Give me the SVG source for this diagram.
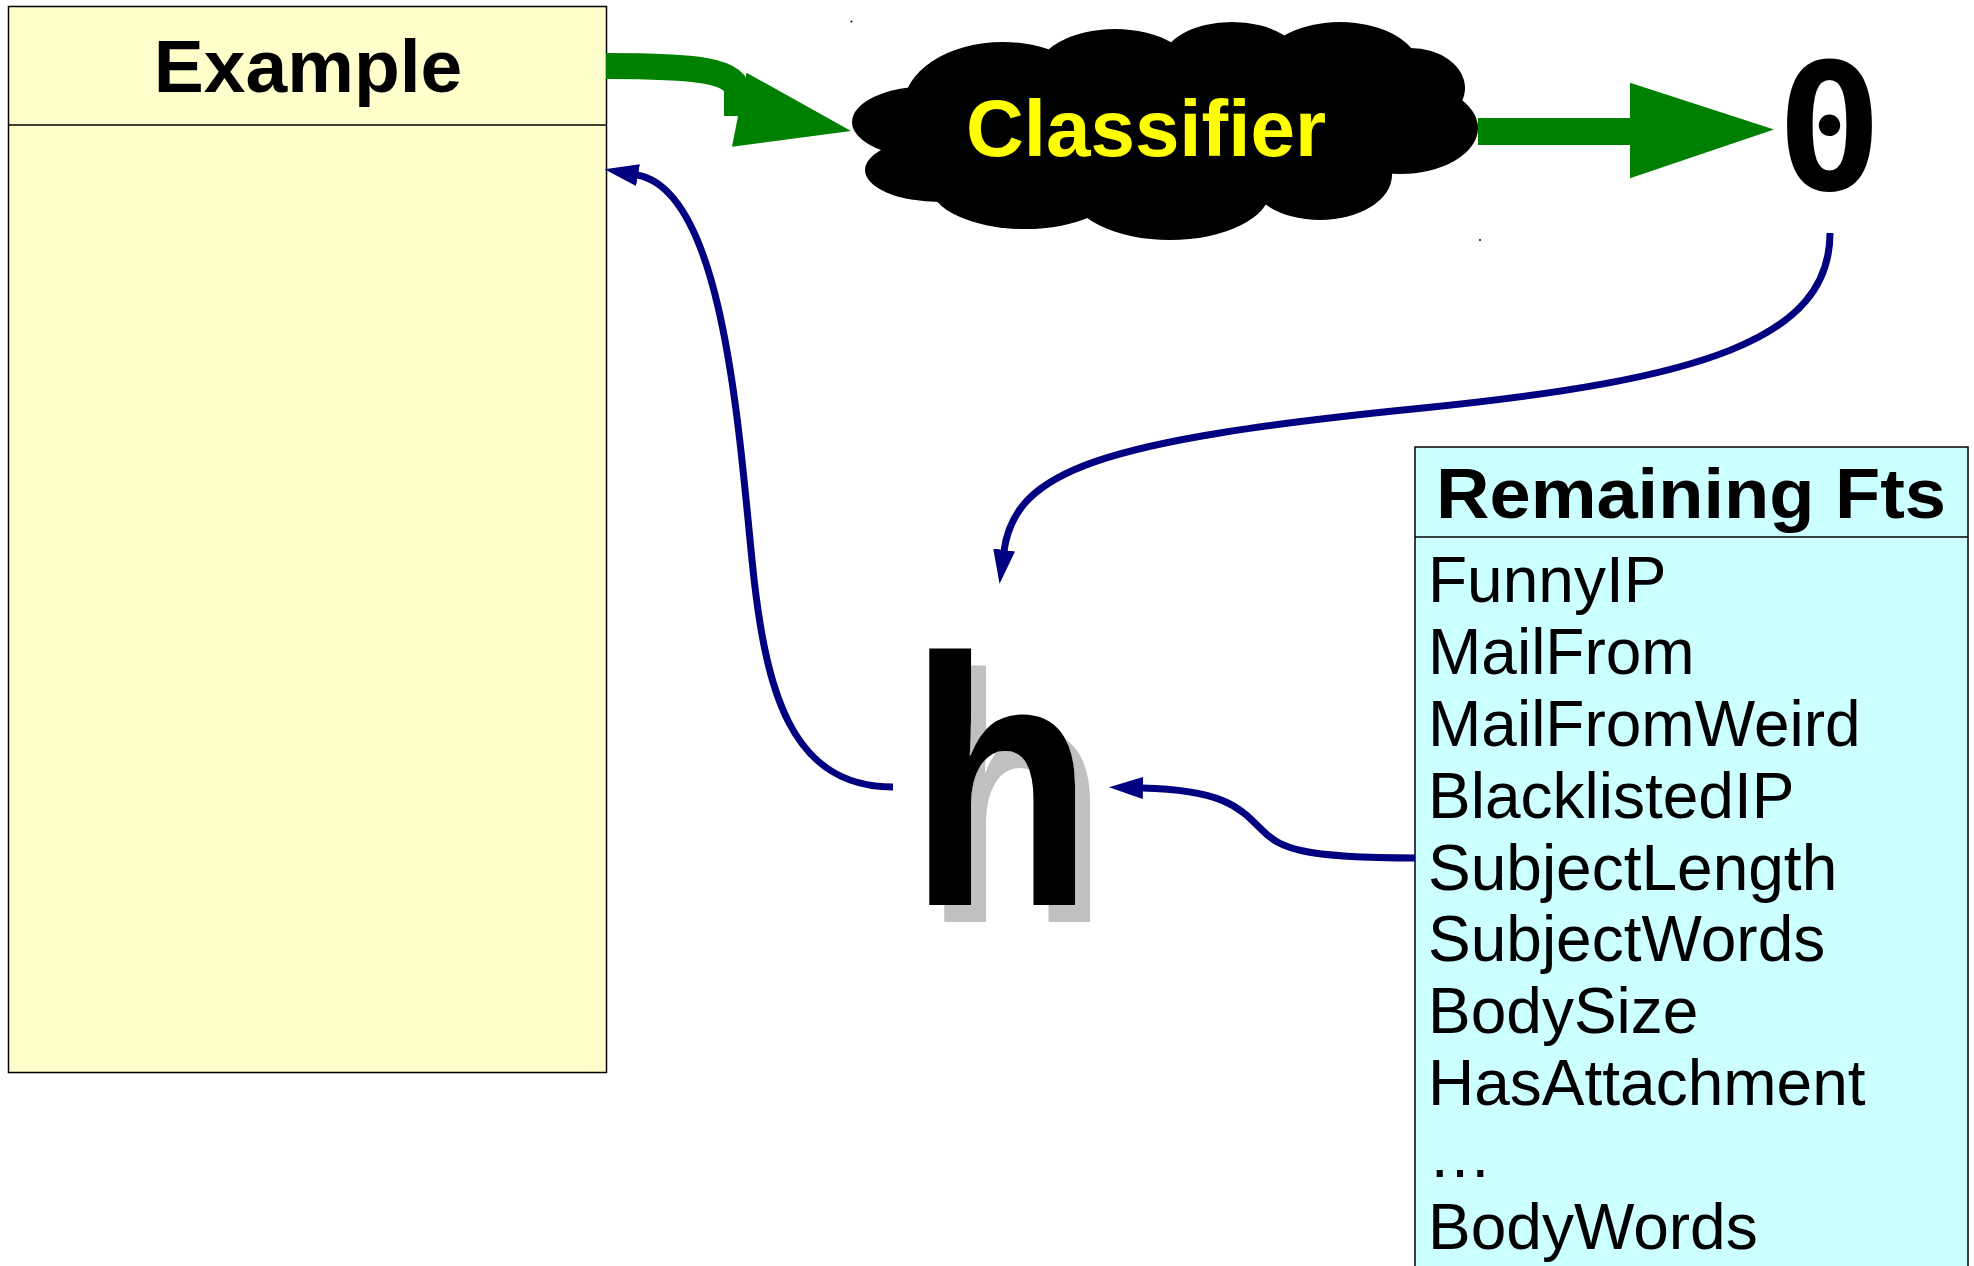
<svg xmlns="http://www.w3.org/2000/svg" width="1974" height="1266" viewBox="0 0 1974 1266">
<defs>
<style>
.sans{font-family:"Liberation Sans",Arial,Helvetica,sans-serif;}
.bold{font-weight:bold;}
.item{font-family:"Liberation Sans",Arial,Helvetica,sans-serif;font-size:64px;fill:#000;}
.blue{fill:none;stroke:#000080;stroke-width:7;marker-end:url(#ah);}
.shaft{fill:none;stroke:#008000;}
.head{fill:#008000;}
.box{stroke:#000;stroke-width:1.5;}
</style>
<marker id="ah" markerUnits="userSpaceOnUse" viewBox="0 0 34 22" refX="1" refY="11" markerWidth="34" markerHeight="22" orient="auto">
<path d="M0,0 L34,11 L0,22 z" fill="#000080"/>
</marker>
<filter id="shadow" x="-20%" y="-20%" width="150%" height="150%">
<feFlood flood-color="#c0c0c0"/>
<feComposite in2="SourceAlpha" operator="in"/>
<feOffset dx="17" dy="17"/>
<feMerge><feMergeNode/><feMergeNode in="SourceGraphic"/></feMerge>
</filter>
</defs>
<rect width="1974" height="1266" fill="#ffffff"/>

<g id="example">
<rect class="box" x="8.5" y="6.5" width="598" height="1066" fill="#ffffcc"/>
<line class="box" x1="8.5" y1="125" x2="606.5" y2="125"/>
<text class="sans bold" x="308" y="92" text-anchor="middle" font-size="75">Example</text>
</g>

<g id="classifier">
<g fill="#000">
<ellipse cx="1165" cy="130" rx="260" ry="75"/>
<ellipse cx="1003" cy="108" rx="100" ry="66"/>
<ellipse cx="1115" cy="75" rx="80" ry="46"/>
<ellipse cx="1232" cy="62" rx="70" ry="40"/>
<ellipse cx="1340" cy="70" rx="80" ry="48"/>
<ellipse cx="1410" cy="88" rx="55" ry="40"/>
<ellipse cx="1400" cy="128" rx="78" ry="46"/>
<ellipse cx="1320" cy="175" rx="72" ry="45"/>
<ellipse cx="1170" cy="190" rx="100" ry="50"/>
<ellipse cx="1025" cy="185" rx="95" ry="44"/>
<ellipse cx="940" cy="170" rx="75" ry="32"/>
<ellipse cx="930" cy="122" rx="78" ry="36"/>
<circle cx="851.5" cy="21.5" r="1"/>
<circle cx="1480" cy="240" r="1"/>
</g>
<text class="sans bold" x="1146" y="156" text-anchor="middle" font-size="80" fill="#ffff00">Classifier</text>
</g>

<g id="theta">
<text x="1829.5" y="190" text-anchor="middle" font-family="DejaVu Sans Mono, monospace" font-weight="bold" font-size="176" fill="#000">0</text>
</g>

<g id="h">
<text class="sans bold" transform="translate(1001,905) scale(0.86,1)" text-anchor="middle" font-size="354" fill="#000" filter="url(#shadow)">h</text>
</g>

<g id="remaining">
<rect class="box" x="1415" y="447" width="553" height="840" fill="#ccffff"/>
<line class="box" x1="1415" y1="537" x2="1968" y2="537"/>
<text class="sans bold" x="1436" y="518" font-size="71" textLength="510" lengthAdjust="spacingAndGlyphs">Remaining Fts</text>
<text class="item" x="1428" y="602">FunnyIP</text>
<text class="item" x="1428" y="674">MailFrom</text>
<text class="item" x="1428" y="746">MailFromWeird</text>
<text class="item" x="1428" y="818">BlacklistedIP</text>
<text class="item" x="1428" y="890">SubjectLength</text>
<text class="item" x="1428" y="961">SubjectWords</text>
<text class="item" x="1428" y="1033">BodySize</text>
<text class="item" x="1428" y="1105">HasAttachment</text>
<text class="item" x="1428" y="1177">…</text>
<text class="item" x="1428" y="1249">BodyWords</text>
</g>

<g id="connectors">
<path class="shaft" stroke-width="26" d="M606,66 C695,66 737,70 737,92 L737,116"/>
<polygon class="head" points="746.5,72.7 851,131 732,146.7"/>
<path class="shaft" stroke-width="27" d="M1478,131.5 L1632,131.5"/>
<polygon class="head" points="1630,82.7 1774,129.5 1630,178.3"/>
<path class="blue" d="M1830,233 C1830,340 1700,380 1423,408 C1100,440 1015,470 1004,551"/>
<path class="blue" d="M893,787 C790,787 765,690 752,560 C738,420 722,190 637,175"/>
<path class="blue" d="M1415,858 C1300,858 1280,848 1262,830 C1240,808 1225,790 1142,788"/>
</g>
</svg>
